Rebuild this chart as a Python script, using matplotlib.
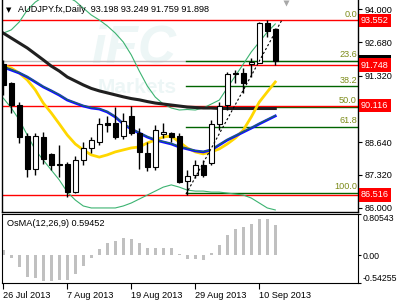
import matplotlib
matplotlib.use("Agg")
import matplotlib.pyplot as plt
import matplotlib.transforms as mtransforms
import numpy as np

plt.rcParams['font.family'] = ['Liberation Sans', 'DejaVu Sans']
FS = 6.6

# daily candles AUDJPY, 26 Jul 2013 .. 12 Sep 2013
opens = [91.80, 91.02, 90.14, 88.89, 87.55, 88.86, 88.17, 87.75, 87.76, 86.65,
         87.92, 88.39, 88.66, 89.40, 89.43, 88.89, 89.70, 89.00, 88.22, 87.65,
         88.96, 89.00, 88.89, 87.08, 87.32, 87.72, 87.82, 89.36, 90.14, 91.45,
         91.45, 91.79, 91.85, 93.44, 93.198]
highs = [91.95, 91.08, 90.27, 89.00, 89.00, 89.07, 88.22, 88.53, 87.85, 88.10,
         88.66, 88.86, 89.61, 89.70, 90.05, 89.81, 90.10, 89.20, 88.66, 89.33,
         89.40, 89.07, 89.00, 87.52, 87.92, 87.92, 89.54, 90.27, 91.48, 91.55,
         91.62, 92.02, 93.50, 93.552, 93.249]
lows = [90.55, 89.82, 88.60, 87.23, 87.30, 87.75, 87.52, 87.25, 86.44, 86.60,
        87.72, 88.19, 88.53, 89.04, 88.76, 88.76, 88.93, 87.55, 87.49, 87.52,
        88.80, 88.66, 86.98, 86.516, 87.18, 87.25, 87.72, 89.13, 89.94, 91.02,
        90.61, 91.28, 91.82, 92.90, 91.759]
closes = [90.95, 90.14, 88.86, 87.55, 88.89, 87.95, 87.73, 87.74, 86.65, 87.92,
          88.39, 88.73, 89.38, 89.35, 88.86, 89.51, 89.00, 88.23, 87.65, 89.13,
          89.07, 88.86, 87.05, 87.28, 87.72, 87.32, 89.36, 90.10, 91.39, 91.39,
          91.02, 91.89, 93.44, 93.14, 91.898]

ma_black = [93.04, 92.84, 92.64, 92.44, 92.20, 91.96, 91.71, 91.51, 91.27, 91.11,
            90.95, 90.81, 90.71, 90.63, 90.55, 90.47, 90.40, 90.35, 90.28, 90.22,
            90.18, 90.14, 90.10, 90.06, 90.04, 90.02, 90.02, 90.00, 90.00, 90.00,
            90.00, 90.00, 90.00, 90.00, 90.00]
ma_yellow = [91.75, 91.63, 91.43, 91.15, 90.75, 90.22, 89.82, 89.38, 88.93, 88.57,
             88.33, 88.13, 88.04, 88.13, 88.25, 88.33, 88.41, 88.45, 88.61, 88.73,
             88.85, 88.89, 88.65, 88.41, 88.25, 88.17, 88.25, 88.37, 88.57, 88.81,
             89.13, 89.66, 90.26, 90.67, 91.07]
ma_blue = [91.67, 91.55, 91.43, 91.27, 91.07, 90.87, 90.71, 90.54, 90.34, 90.22,
           90.10, 90.02, 89.98, 89.86, 89.66, 89.38, 89.17, 89.01, 88.85, 88.73,
           88.65, 88.57, 88.45, 88.37, 88.29, 88.25, 88.33, 88.53, 88.73, 88.89,
           89.05, 89.21, 89.38, 89.54, 89.70]
band_up = [93.04, 93.17, 93.49, 93.97, 94.29, 94.50, 94.60, 94.60, 94.50, 94.33,
           94.05, 93.77, 93.57, 93.33, 93.04, 92.68, 92.16, 91.51, 90.91, 90.46,
           90.18, 90.02, 89.94, 89.96, 89.94, 90.02, 90.18, 90.34, 90.83, 91.31,
           91.79, 92.28, 92.68, 93.08, 93.41]
band_dn = [90.42, 90.02, 89.54, 88.93, 88.33, 87.92, 87.52, 87.12, 86.63, 86.31,
           86.07, 85.99, 85.99, 85.99, 85.99, 86.07, 86.19, 86.35, 86.51, 86.67,
           86.83, 86.92, 86.83, 86.71, 86.67, 86.67, 86.63, 86.63, 86.59, 86.55,
           86.51, 86.39, 86.19, 85.99, 85.91]
osma = [0.106, -0.046, -0.225, -0.430, -0.444, -0.510, -0.510, -0.490, -0.490, -0.364,
        -0.212, -0.046, 0.119, 0.238, 0.285, 0.338, 0.318, 0.238, 0.146, 0.146,
        0.146, 0.146, 0.033, -0.066, -0.066, -0.093, 0.050, 0.198, 0.397, 0.516,
        0.560, 0.615, 0.714, 0.714, 0.5945]

red_levels = [93.552, 91.748, 90.116, 86.516]
bid = 91.898
fib_hi, fib_lo = 93.552, 86.60
fib_pcts = [0.0, 23.6, 38.2, 50.0, 61.8, 100.0]
price_ticks = [94.0, 92.68, 91.32, 89.96, 88.64, 87.32, 86.0]
price_labels = ['94.000', '92.680', '91.320', '', '88.640', '87.320', '86.000']
date_pos = [0, 8, 16, 24, 32]
date_labels = ['26 Jul 2013', '7 Aug 2013', '19 Aug 2013', '29 Aug 2013', '10 Sep 2013']

W, H = 398, 301
fig = plt.figure(figsize=(W / 100, H / 100), dpi=100)

def box(l, t, r, b):
    return [l / W, 1 - b / H, (r - l) / W, (b - t) / H]

ax = fig.add_axes(box(2, 0, 358, 212))
ax2 = fig.add_axes(box(2, 214, 358, 283))
xlim = (-0.16, 44.34)
n = len(opens)
x = np.arange(n)

# faint watermark
ax.text(0.37, 0.77, 'iFC', transform=ax.transAxes, fontsize=38, fontweight='bold',
        fontstyle='italic', color='#edf6f6', ha='center', va='center', zorder=0)
ax.text(0.38, 0.585, 'Markets', transform=ax.transAxes, fontsize=15, fontweight='bold',
        color='#edf6f6', ha='center', va='center', zorder=0)

# horizontal lines
ax.axhline(bid, color='#c0c0c0', lw=1, zorder=1)
for lv in red_levels:
    ax.axhline(lv, color='#ff0000', lw=1, zorder=1.5)

# fibonacci
fx0 = 22.85
btrans = mtransforms.blended_transform_factory(ax.transAxes, ax.transData)
for p in fib_pcts:
    lv = fib_hi - (fib_hi - fib_lo) * p / 100
    if p > 0:
        ax.plot([fx0, xlim[1]], [lv, lv], color='#006400', lw=1, zorder=1.2)
    ax.text(0.997, lv + 0.07, '%.1f' % p, transform=btrans,
            ha='right', va='bottom', fontsize=FS, color='#7d8c1a', zorder=5)
ax.plot([fx0, 34.8], [fib_lo - 0.05, fib_hi], color='black', lw=0.8, ls=(0, (2, 2)), zorder=4)

# indicators
ax.plot(x, band_up, color='#3cb371', lw=0.8, zorder=2)
ax.plot(x, band_dn, color='#3cb371', lw=0.8, zorder=2)
ax.plot(x, ma_black, color='#202020', lw=2.2, zorder=2)
ax.plot(x, ma_yellow, color='#ffd700', lw=2, zorder=2)
ax.plot(x, ma_blue, color='#1010ff', lw=2, zorder=2)
ax.plot(x, np.array(ma_blue) + 0.02, color='#228b22', lw=0.6, zorder=2.1)

# candles
o, h, l, c = map(np.array, (opens, highs, lows, closes))
ax.vlines(x, l, h, color='black', lw=1, zorder=3)
up = c >= o
ax.bar(x[up], (c - o)[up], bottom=o[up], width=0.6, color='white', edgecolor='black', lw=0.8, zorder=3.5)
ax.bar(x[~up], (o - c)[~up], bottom=c[~up], width=0.6, color='black', edgecolor='black', lw=0.8, zorder=3.5)

ax.set_xlim(xlim)
ax.set_ylim(85.827, 94.375)
ax.set_xticks([])
ax.yaxis.tick_right()
ax.set_yticks(price_ticks)
ax.set_yticklabels(price_labels)
ax.tick_params(axis='y', length=3, pad=2, labelsize=FS, colors='black')
ax.spines['top'].set_visible(False)
for s in ('left', 'right', 'bottom'):
    ax.spines[s].set_linewidth(1)

ax.text(1.0084, bid, '%.3f' % bid, transform=btrans, ha='left', va='center', fontsize=FS,
        color='white', bbox=dict(boxstyle='square,pad=0.25', fc='black', ec='none'), zorder=6)
for lv in red_levels:
    ax.text(1.0084, lv, '%.3f' % lv, transform=btrans, ha='left', va='center', fontsize=FS,
            color='white', bbox=dict(boxstyle='square,pad=0.25', fc='#ff0000', ec='none'), zorder=7)

ax.plot([0.798], [0.985], marker='v', ms=4.5, color='#a8a8a8', mec='none',
        transform=ax.transAxes, clip_on=False)

# title
fig.text(9 / W, 1 - 10 / H, '\u25bc', fontsize=5, ha='center', va='center', family='DejaVu Sans')
fig.text(18 / W, 1 - 10 / H, 'AUDJPY.fx,Daily  93.198 93.249 91.759 91.898', fontsize=FS, va='center')

# OsMA panel
ax2.bar(x, osma, width=0.4, color='#c0c0c0', zorder=2)
ax2.set_xlim(xlim)
ax2.set_ylim(-0.54255, 0.80543)
ax2.yaxis.tick_right()
ax2.set_yticks([0.80543, 0.0, -0.54255])
ax2.set_yticklabels(['0.80543', '0.00', '-0.54255'])
ax2.tick_params(axis='y', length=2, pad=1, labelsize=6.3)
yl = ax2.get_yticklabels()
yl[0].set_va('top')
yl[2].set_va('bottom')
ax2.set_xticks(date_pos)
ax2.set_xticklabels(date_labels)
for t in ax2.get_xticklabels():
    t.set_ha('left')
ax2.tick_params(axis='x', length=4, pad=2, labelsize=FS)
ax2.text(0.014, 0.86, 'OsMA(12,26,9) 0.59452', transform=ax2.transAxes, fontsize=FS, va='center')

fig.savefig('out.png', dpi=100, facecolor='white')
